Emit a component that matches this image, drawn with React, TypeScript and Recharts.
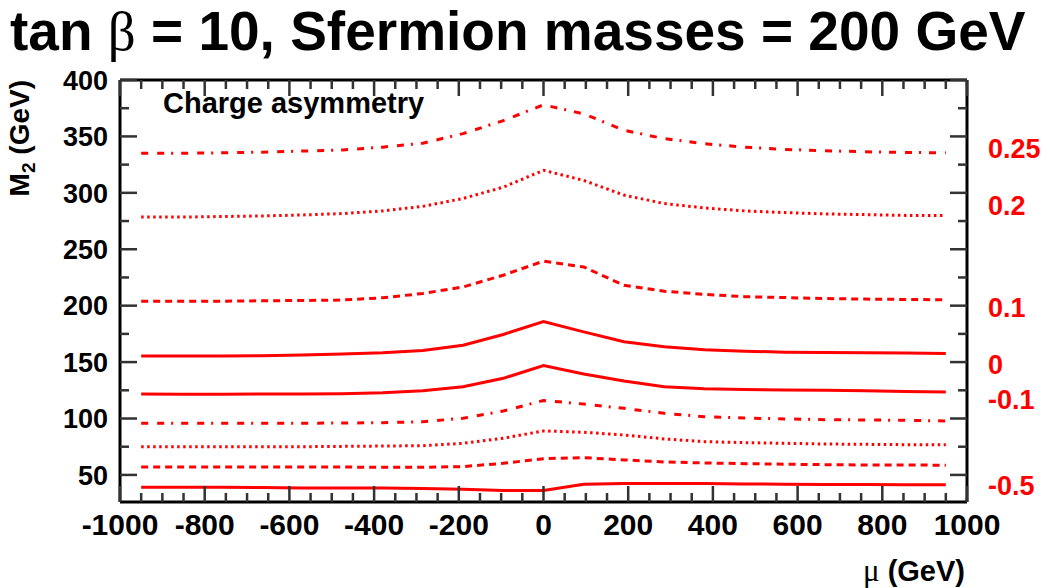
import React from 'react';
import { LineChart, Line, XAxis, YAxis, Label } from 'recharts';

// ---- data ----
const muValues = [-950, -855, -760, -665, -570, -475, -380, -285, -190, -95, 0, 95, 190, 285, 380, 475, 570, 665, 760, 855, 950];

const asymLevels = ['0.25', '0.2', '0.1', '0', '-0.1', '-0.2', '-0.3', '-0.4', '-0.5'];

const m2_p025 = [335, 335, 335.5, 336, 337, 338, 340.5, 344, 352.5, 364, 378, 370, 355.5, 348, 343.5, 340.5, 338.5, 337.3, 336.4, 335.8, 335.5];
const m2_p020 = [278.5, 278.5, 279, 279.5, 280.4, 281.6, 284, 288, 295, 305, 320, 311, 298, 290.5, 286.6, 284, 282.5, 281.3, 280.7, 280, 279.8];
const m2_p010 = [204, 204, 204, 204.3, 204.6, 205, 207, 210.8, 216.6, 227, 239.5, 234.3, 218, 212.8, 210, 208, 207.2, 206.3, 205.8, 205.5, 205.2];
const m2_z000 = [155.5, 155.5, 155.5, 155.7, 156.2, 157.1, 158.3, 160.3, 165, 174.5, 186, 176.8, 168, 163.6, 161, 159.7, 158.8, 158.6, 158.3, 158, 157.7];
const m2_m010 = [121.7, 121.5, 121.5, 121.7, 121.7, 122, 122.8, 124.6, 128.2, 135.6, 147, 139.4, 133.2, 128.2, 126.4, 125.8, 125.2, 125, 124.6, 124, 123.5];
const m2_m020 = [95.7, 95.7, 95.7, 95.7, 95.8, 96, 96.3, 97.2, 100.2, 106.6, 116, 112.8, 109, 104.6, 101.6, 100.4, 99.6, 99, 98.7, 98.4, 97.8];
const m2_m030 = [75, 75, 75, 75, 75, 75.3, 75.6, 75.9, 78, 82.5, 89, 87.8, 85.4, 81.9, 79.5, 78.6, 78, 77.4, 77.1, 76.8, 76.8];
const m2_m040 = [57, 57, 57, 57, 57, 57, 56.7, 56.7, 57.4, 60.3, 64.4, 65.3, 63.3, 61.5, 60.6, 60, 59.5, 59.1, 58.8, 58.8, 58.6];
const m2_m050 = [39, 39, 39, 38.8, 38.5, 38.5, 38.3, 38, 37.3, 36.3, 36.3, 41.8, 42.3, 42.5, 42.3, 42, 41.8, 41.5, 41.5, 41.2, 41.2];

const xMajorTicks = [-1000, -800, -600, -400, -200, 0, 200, 400, 600, 800, 1000];
const xMinorTicks = [-1000, -950, -900, -850, -800, -750, -700, -650, -600, -550, -500, -450, -400, -350, -300, -250, -200, -150, -100, -50, 0, 50, 100, 150, 200, 250, 300, 350, 400, 450, 500, 550, 600, 650, 700, 750, 800, 850, 900, 950, 1000];
const yMajorTicks = [50, 100, 150, 200, 250, 300, 350, 400];
const yMinorTicks = [50, 75, 100, 125, 150, 175, 200, 225, 250, 275, 300, 325, 350, 375, 400];

const rightLabelTexts = ['0.25', '0.2', '0.1', '0', '-0.1', '-0.5'];
const rightLabelAnchors = [339.8, 289, 198.7, 148.2, 117.3, 40.3];

const X_DOMAIN: [number, number] = [-1000, 1000];
const Y_DOMAIN: [number, number] = [26, 400];

// ---- layout & styles ----
const W = 1050;
const H = 588;
const M_TOP = 80;
const LEFT_W = 120;
const RIGHT_W = 83;
const BOTTOM_H = 86;
const PLOT_TOP = M_TOP;
const PLOT_RIGHT = W - RIGHT_W;
const X_TICK_MARGIN = 11;
const Y_TICK_MARGIN = 12;

const FONT = '"Liberation Sans", Arial, Helvetica, sans-serif';
const SERIF = '"Liberation Serif", "DejaVu Serif", serif';
const RED = '#ff0000';
const DASHDOT = '7 9 7 7 2 8';
const DOTTED = '2.5 3.5';
const DASHED = '7 5';
const SOLID = undefined;

const seriesList = [
  { key: 'a0', values: m2_p025, dash: DASHDOT },
  { key: 'a1', values: m2_p020, dash: DOTTED },
  { key: 'a2', values: m2_p010, dash: DASHED },
  { key: 'a3', values: m2_z000, dash: SOLID },
  { key: 'a4', values: m2_m010, dash: SOLID },
  { key: 'a5', values: m2_m020, dash: DASHDOT },
  { key: 'a6', values: m2_m030, dash: DOTTED },
  { key: 'a7', values: m2_m040, dash: DASHED },
  { key: 'a8', values: m2_m050, dash: SOLID },
];

const rows = muValues.map((mu, i) => {
  const r: Record<string, number> = { mu };
  seriesList.forEach((s) => {
    r[s.key] = s.values[i];
  });
  return r;
});

const frameLine = { stroke: '#000', strokeWidth: 3 };
const TICK_FILL = '#333';
const TW = 2.5;

const XTick = (props: any) => {
  const x = Number(props.x);
  const y = Number(props.y);
  const v = props.payload ? props.payload.value : 0;
  const major = xMajorTicks.indexOf(v) >= 0;
  const len = major ? 16 : 9;
  const pb = y - X_TICK_MARGIN;
  return (
    <g className="frame-tick">
      <rect x={x - TW / 2} y={pb - len} width={TW} height={len} fill={TICK_FILL} />
      <rect x={x - TW / 2} y={PLOT_TOP} width={TW} height={len} fill={TICK_FILL} />
      {major ? (
        <text x={x} y={y} dy="0.72em" textAnchor="middle" fill="#000" fontSize={30} fontWeight="bold" fontFamily={FONT}>
          {String(v)}
        </text>
      ) : null}
    </g>
  );
};

const YTick = (props: any) => {
  const x = Number(props.x);
  const y = Number(props.y);
  const v = props.payload ? props.payload.value : 0;
  const major = yMajorTicks.indexOf(v) >= 0;
  const len = major ? 17 : 9;
  const pl = x + Y_TICK_MARGIN;
  return (
    <g className="frame-tick">
      <rect x={pl} y={y - TW / 2} width={len} height={TW} fill={TICK_FILL} />
      <rect x={PLOT_RIGHT - len} y={y - TW / 2} width={len} height={TW} fill={TICK_FILL} />
      {major ? (
        <text x={x} y={y} dy="0.36em" textAnchor="end" fill="#000" fontSize={27} fontWeight="bold" fontFamily={FONT}>
          {String(v)}
        </text>
      ) : null}
    </g>
  );
};

const XTitle = (props: any) => {
  const vb = props.viewBox || { x: 120, y: 502, width: 847, height: 86 };
  return (
    <text x={vb.x + vb.width - 2} y={vb.y + 79} textAnchor="end" fontFamily={FONT} fontWeight="bold" fontSize={29} fill="#000">
      <tspan fontFamily={SERIF} fontWeight="normal" fontSize={31}>μ</tspan>
      <tspan> (GeV)</tspan>
    </text>
  );
};

const YTitle = (props: any) => {
  const vb = props.viewBox || { x: 0, y: 80, width: 120, height: 422 };
  const bx = 29;
  const by = vb.y;
  return (
    <text x={bx} y={by} transform={`rotate(-90, ${bx}, ${by})`} textAnchor="end" fontFamily={FONT} fontWeight="bold" fontSize={28} fill="#000">
      <tspan>M</tspan>
      <tspan fontSize={19} dy={6}>2</tspan>
      <tspan dy={-6}> (GeV)</tspan>
    </text>
  );
};

const TopTexts = (props: any) => {
  const vb = props.viewBox || { x: 120, y: 80, width: 847, height: 1 };
  return (
    <g>
      <text x={10} y={50} fontFamily={FONT} fontWeight="bold" fontSize={55} fill="#000">
        <tspan>tan </tspan>
        <tspan fontFamily={SERIF} fontWeight="normal">β</tspan>
        <tspan> = 10, Sfermion masses = 200 GeV</tspan>
      </text>
      <text x={vb.x + 43} y={vb.y + 33} fontFamily={FONT} fontWeight="bold" fontSize={29} fill="#000">
        Charge asymmetry
      </text>
    </g>
  );
};

export default function App() {
  return (
    <div style={{ position: 'absolute', left: 0, top: 0, width: W, height: H, background: '#fff' }}>
      <LineChart width={W} height={H} data={rows} margin={{ top: M_TOP, right: 0, bottom: 0, left: 0 }}>
        <XAxis
          xAxisId="xl"
          dataKey="mu"
          type="number"
          domain={X_DOMAIN}
          allowDataOverflow
          ticks={xMinorTicks}
          interval={0}
          height={BOTTOM_H}
          tickSize={0}
          tickMargin={X_TICK_MARGIN}
          axisLine={frameLine}
          tickLine={false}
          tick={XTick}
        >
          <Label content={XTitle} />
        </XAxis>
        <XAxis
          xAxisId="xt"
          type="number"
          domain={X_DOMAIN}
          allowDataOverflow
          orientation="top"
          mirror
          height={1}
          ticks={xMajorTicks}
          interval={0}
          tick={false}
          tickLine={false}
          axisLine={frameLine}
        >
          <Label content={TopTexts} />
        </XAxis>
        <YAxis
          yAxisId="yl"
          type="number"
          domain={Y_DOMAIN}
          allowDataOverflow
          ticks={yMinorTicks}
          interval={0}
          width={LEFT_W}
          tickSize={0}
          tickMargin={Y_TICK_MARGIN}
          axisLine={frameLine}
          tickLine={false}
          tick={YTick}
        >
          <Label content={YTitle} />
        </YAxis>
        <YAxis
          yAxisId="yr"
          orientation="right"
          type="number"
          domain={Y_DOMAIN}
          allowDataOverflow
          ticks={rightLabelAnchors}
          interval={0}
          width={RIGHT_W}
          tickSize={0}
          tickMargin={21}
          axisLine={frameLine}
          tickLine={false}
          tickFormatter={(v: number) => {
            const i = rightLabelAnchors.indexOf(v);
            return i >= 0 ? rightLabelTexts[i] : '';
          }}
          tick={{ fill: RED, fontSize: 27, fontWeight: 'bold', fontFamily: FONT }}
        />

        {seriesList.map((s, idx) => (
          <Line
            key={s.key}
            xAxisId="xl"
            yAxisId="yl"
            type="linear"
            dataKey={s.key}
            name={asymLevels[idx]}
            stroke={RED}
            strokeWidth={3}
            strokeDasharray={s.dash}
            dot={false}
            activeDot={false}
            isAnimationActive={false}
          />
        ))}
      </LineChart>
    </div>
  );
}
